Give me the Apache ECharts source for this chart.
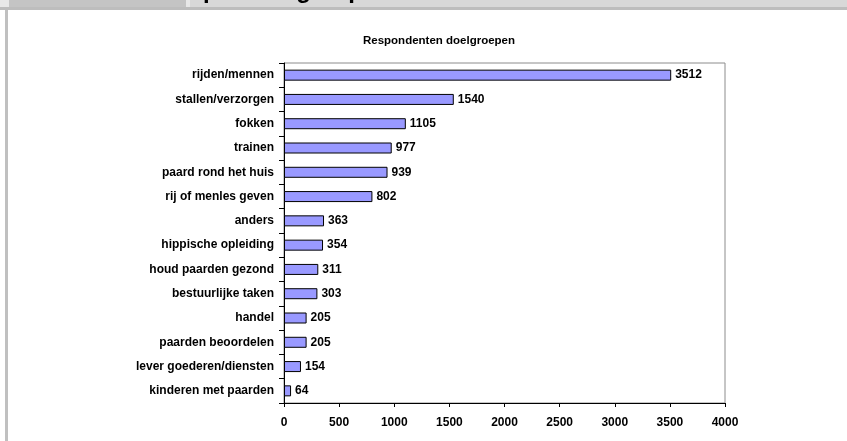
<!DOCTYPE html>
<html>
<head>
<meta charset="utf-8">
<script src="https://cdn.jsdelivr.net/npm/echarts@6/dist/echarts.min.js"></script>
<style>
  html, body { margin: 0; padding: 0; background: #fff; }
  #chart { width: 847px; height: 441px; }
</style>
</head>
<body>
<div id="chart"></div>
<script>
// doelgroepen, van boven naar beneden
const categories = [
  'rijden/mennen', 'stallen/verzorgen', 'fokken', 'trainen',
  'paard rond het huis', 'rij of menles geven', 'anders',
  'hippische opleiding', 'houd paarden gezond', 'bestuurlijke taken',
  'handel', 'paarden beoordelen', 'lever goederen/diensten',
  'kinderen met paarden'
]
const respondents = [3512, 1540, 1105, 977, 939, 802, 363, 354, 311, 303, 205, 205, 154, 64]
const xTicks = [0, 500, 1000, 1500, 2000, 2500, 3000, 3500, 4000]

const font = 'Liberation Sans, Arial, sans-serif'
const chart = echarts.init(document.getElementById('chart'))

const option = {
  backgroundColor: '#fff',
  animation: false,
  title: {
    text: 'Respondenten doelgroepen',
    left: 434,
    textAlign: 'center',
    top: 30,
    textStyle: { fontFamily: font, fontSize: 11.5, fontWeight: 'bold', color: '#000' }
  },
  graphic: [
    // grijze balk bovenaan (stuk van de pagina erboven)
    { type: 'rect', shape: { x: 0, y: 0, width: 847, height: 10 }, style: { fill: '#e8e8e8' }, silent: true },
    { type: 'rect', shape: { x: 9, y: 0, width: 177, height: 7 }, style: { fill: '#c4c4c4' }, silent: true },
    { type: 'rect', shape: { x: 190, y: 0, width: 657, height: 7 }, style: { fill: '#d8d8d8' }, silent: true },
    {
      type: 'text', left: 203, top: -21, silent: true,
      style: { text: 'per doelgroep', font: 'bold 24px ' + font, fill: '#000' }
    },
    { type: 'rect', shape: { x: 0, y: 7, width: 847, height: 3 }, style: { fill: '#bdbdbd' }, silent: true },
    { type: 'rect', shape: { x: 5, y: 10, width: 3, height: 431 }, style: { fill: '#c0c0c0' }, silent: true }
  ],
  grid: {
    left: 284, right: 122, top: 63, bottom: 38,
    show: true, borderColor: '#8c8c8c', borderWidth: 1, backgroundColor: 'transparent'
  },
  xAxis: {
    type: 'value',
    min: 0, max: 4000, interval: 500,
    axisLine: { show: true, lineStyle: { color: '#000', width: 1 } },
    axisTick: { show: true, inside: false, length: 4, lineStyle: { color: '#000' } },
    splitLine: { show: false },
    axisLabel: {
      margin: 14,
      fontFamily: font, fontSize: 12, fontWeight: 'bold', color: '#000',
      formatter: v => xTicks.includes(v) ? String(v) : ''
    }
  },
  yAxis: {
    type: 'category',
    data: categories,
    inverse: true,
    axisLine: { show: true, lineStyle: { color: '#000', width: 1 } },
    axisTick: { show: true, inside: false, length: 5, lineStyle: { color: '#000' } },
    axisLabel: {
      margin: 10,
      fontFamily: font, fontSize: 12, fontWeight: 'bold', color: '#000'
    }
  },
  series: [
    {
      type: 'bar',
      data: respondents,
      barWidth: 11,
      itemStyle: { color: '#9999ff', borderColor: '#000', borderWidth: 1 },
      label: {
        show: true,
        position: 'right',
        distance: 4,
        fontFamily: font, fontSize: 12, fontWeight: 'bold', color: '#000'
      }
    }
  ]
}

chart.setOption(option)
</script>
</body>
</html>
